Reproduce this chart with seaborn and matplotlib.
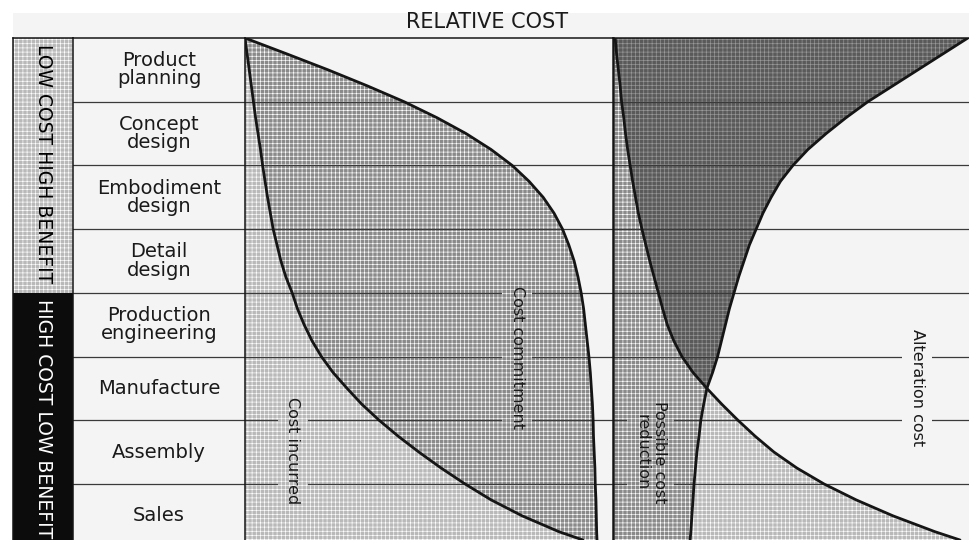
#Libraries
import numpy as np
import matplotlib
matplotlib.use('Agg')
import matplotlib.pyplot as plt
import seaborn as sns
from matplotlib.patches import Rectangle

#Data: design phases (rows, top to bottom) and the two benefit bands
phases = ['Product\nplanning', 'Concept\ndesign', 'Embodiment\ndesign', 'Detail\ndesign',
          'Production\nengineering', 'Manufacture', 'Assembly', 'Sales']
band_labels = ['LOW COST HIGH BENEFIT', 'HIGH COST LOW BENEFIT']
band_rows = [4, 4]

#Curves: position down the phase axis (1 unit = 1 phase)
phase_pos = [0, 0.25, 0.5, 0.75, 1, 1.25, 1.5, 1.75, 2, 2.25, 2.5, 2.75, 3, 3.25,
             3.5, 3.75, 4, 4.25, 4.5, 4.75, 5, 5.25, 5.5, 5.75, 6, 6.25, 6.5, 6.75,
             7, 7.25, 7.5, 7.75, 7.88]

#left panel, relative cost (0..1)
cost_incurred = [0, 0.006, 0.012, 0.018, 0.024, 0.030, 0.037, 0.044, 0.050, 0.057,
                 0.064, 0.072, 0.080, 0.091, 0.102, 0.116, 0.134, 0.149, 0.168, 0.190,
                 0.217, 0.250, 0.290, 0.332, 0.381, 0.435, 0.494, 0.557, 0.625, 0.699,
                 0.787, 0.892, 0.960]
cost_commitment = [0, 0.119, 0.236, 0.347, 0.452, 0.545, 0.628, 0.699, 0.759, 0.807,
                   0.847, 0.878, 0.902, 0.920, 0.935, 0.946, 0.955, 0.962, 0.967, 0.972,
                   0.977, 0.981, 0.984, 0.987, 0.989, 0.990, 0.992, 0.994, 0.995, 0.997,
                   0.998, 0.999, 1.0]

#right panel, relative cost (0..1)
alteration_cost = [0.006, 0.010, 0.015, 0.020, 0.024, 0.030, 0.035, 0.041, 0.048, 0.055,
                   0.063, 0.071, 0.081, 0.092, 0.103, 0.115, 0.127, 0.139, 0.152, 0.170,
                   0.193, 0.224, 0.263, 0.305, 0.350, 0.398, 0.451, 0.515, 0.591, 0.681,
                   0.784, 0.902, 0.972]
cost_reduction = [0.994, 0.924, 0.854, 0.784, 0.714, 0.653, 0.597, 0.546, 0.504, 0.469,
                  0.443, 0.420, 0.401, 0.382, 0.367, 0.352, 0.339, 0.326, 0.315, 0.304,
                  0.293, 0.279, 0.263, 0.254, 0.246, 0.241, 0.235, 0.231, 0.227, 0.224,
                  0.221, 0.218, 0.216]

#Inner labels: text, x, y, panel, background
curve_labels = [('Cost incurred', 0.136, 6.47, 'left', 'light'),
                ('Cost commitment', 0.773, 5.01, 'left', 'mid'),
                ('Possible cost\nreduction', 0.106, 6.50, 'right', 'mid'),
                ('Alteration cost', 0.852, 5.48, 'right', 'page')]

#Style
sns.set_style('white')
plt.rcParams['font.family'] = ['DejaVu Sans']
plt.rcParams['hatch.color'] = 'white'
plt.rcParams['hatch.linewidth'] = 0.45

PAGE = '#f4f4f4'
INK = '#151515'
LINE = '#3a3a3a'
fills = {'light': '#b9b9b9', 'mid': '#8a8a8a', 'dark': '#5a5a5a', 'page': PAGE}
HATCH = '++++'

W, H = 970, 540
TOP = 38
Y_END = 7.88

fig = plt.figure(figsize=(W / 100, H / 100), dpi=100)
fig.patch.set_facecolor('white')
fig.patches.append(Rectangle((13 / W, 0), 1, 1 - 13 / H, transform=fig.transFigure,
                             facecolor=PAGE, edgecolor='none', zorder=-10))


def panel(x0, x1):
    ax = fig.add_axes([x0 / W, 0, (x1 - x0) / W, (H - TOP) / H])
    ax.set_facecolor(PAGE)
    ax.set_ylim(Y_END, 0)
    ax.set_xticks([])
    ax.set_yticks([])
    for s in ['right', 'bottom']:
        ax.spines[s].set_visible(False)
    for s in ['left', 'top']:
        ax.spines[s].set_color(INK)
        ax.spines[s].set_linewidth(1.1)
        ax.spines[s].set_zorder(6)
    return ax


ax_band = panel(13, 73)
ax_lab = panel(73, 245)
ax_l = panel(245, 613)
ax_r = panel(613, 970)
ax_band.set_xlim(0, 1)
ax_lab.set_xlim(0, 1)
ax_l.set_xlim(0, 368 / 352)
ax_r.set_xlim(0, 1)
ax_r.spines['left'].set_linewidth(1.8)

#Band column
starts = np.cumsum([0] + band_rows[:-1])
band_face = [fills['light'], '#0c0c0c']
band_text = ['black', 'white']
ax_band.barh(starts, 1, height=band_rows, left=0, align='edge', color=band_face,
             hatch=[HATCH, ''], edgecolor=['white', '#0c0c0c'], linewidth=0)
for lab, st, tc in zip(band_labels, starts, band_text):
    ax_band.text(0.5, st + 0.1, lab, rotation=-90, ha='center', va='top',
                 fontsize=13.5, color=tc)

#Phase label column
for i, p in enumerate(phases):
    ax_lab.text(0.5, i + 0.5, p, ha='center', va='center', fontsize=14,
                color='#1a1a1a', linespacing=0.95)

#Row lines
for ax in [ax_lab, ax_l, ax_r]:
    for r in range(1, len(phases)):
        ax.axhline(r, color=LINE, lw=0.9, zorder=3)

pos = np.array(phase_pos)
inc = np.array(cost_incurred)
com = np.array(cost_commitment)
alt = np.array(alteration_cost)
red = np.array(cost_reduction)

#Left panel fills and curves
ax_l.fill_betweenx(pos, 0, inc, facecolor=fills['light'], hatch=HATCH,
                   edgecolor='white', linewidth=0, zorder=1)
ax_l.fill_betweenx(pos, inc, com, facecolor=fills['mid'], hatch=HATCH,
                   edgecolor='white', linewidth=0, zorder=1)
sns.lineplot(x=inc, y=pos, sort=False, estimator=None, color=INK, lw=2.0, ax=ax_l, zorder=4)
sns.lineplot(x=com, y=pos, sort=False, estimator=None, color=INK, lw=2.0, ax=ax_l, zorder=4)

#Right panel fills and curves
ax_r.fill_betweenx(pos, 0, np.minimum(alt, red), facecolor=fills['mid'], hatch=HATCH,
                   edgecolor='white', linewidth=0, zorder=1)
ax_r.fill_betweenx(pos, alt, red, where=alt <= red, interpolate=True,
                   facecolor=fills['dark'], hatch=HATCH, edgecolor='#9a9a9a',
                   linewidth=0, zorder=1)
ax_r.fill_betweenx(pos, red, alt, where=alt >= red, interpolate=True,
                   facecolor=fills['light'], hatch=HATCH, edgecolor='white',
                   linewidth=0, zorder=1)
sns.lineplot(x=alt, y=pos, sort=False, estimator=None, color=INK, lw=2.0, ax=ax_r, zorder=4)
sns.lineplot(x=red, y=pos, sort=False, estimator=None, color=INK, lw=2.0, ax=ax_r, zorder=4)

#Curve labels (with a patch behind that breaks the row lines)
for txt, x, y, which, bg in curve_labels:
    ax = ax_l if which == 'left' else ax_r
    box = dict(boxstyle='square,pad=0.45', facecolor=fills[bg], linewidth=0,
               edgecolor='white' if bg != 'page' else PAGE,
               hatch=HATCH if bg != 'page' else None)
    ax.text(x, y, txt, rotation=-90, ha='center', va='center', fontsize=11.5,
            color='#1a1a1a', bbox=box, zorder=5)

fig.text(487 / W, 1 - 22 / H, 'RELATIVE COST', ha='center', va='center',
         fontsize=15, color='#1a1a1a')

fig.savefig('out.png', dpi=100)
